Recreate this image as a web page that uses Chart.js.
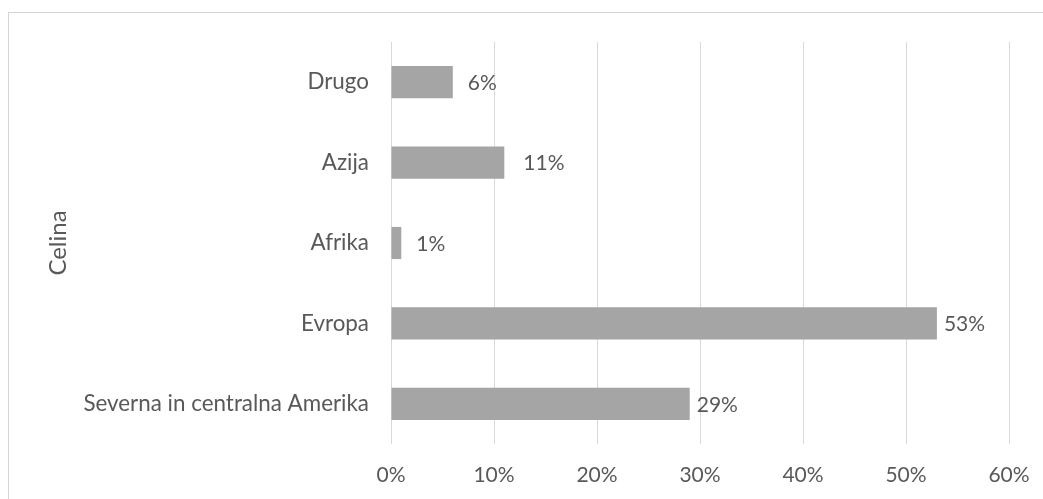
<!DOCTYPE html>
<html>
<head>
<meta charset="utf-8">
<script src="https://cdn.jsdelivr.net/npm/chart.js@4/dist/chart.umd.min.js"></script>
<style>
  html, body { margin: 0; padding: 0; background: #fff; overflow: hidden; }
  /* outer chart frame */
  .frame {
    position: absolute; left: 8px; top: 12px;
    width: 1100px; height: 600px;
    border: 1px solid #d4d4d4;
  }
  #chart { position: absolute; left: 0; top: 0; }
</style>
</head>
<body>
<div class="frame"></div>
<canvas id="chart" width="1043" height="499"></canvas>
<script>
/* Continents and their share */
const categories = ["Drugo", "Azija", "Afrika", "Evropa", "Severna in centralna Amerika"];
const shares = [6, 11, 1, 53, 29];
const axisTitle = "Celina";
const xTicks = [0, 10, 20, 30, 40, 50, 60];

const TEXT = "#595959";
const GRID = "#d9d9d9";
const FONT = "Lato, 'Noto Sans', sans-serif";

/* Value labels at the end of each bar */
const barLabels = {
  id: "barLabels",
  afterDatasetsDraw(chart, args, opts) {
    const ctx = chart.ctx;
    const meta = chart.getDatasetMeta(0);
    ctx.save();
    ctx.font = `${opts.size}px ${FONT}`;
    ctx.fillStyle = TEXT;
    ctx.textBaseline = "middle";
    ctx.textAlign = "left";
    meta.data.forEach((bar, i) => {
      const v = chart.data.datasets[0].data[i];
      const gap = opts.gaps[i] ?? 10;
      ctx.fillText(v + "%", bar.x + gap, bar.y + 1);
    });
    ctx.restore();
  },
};

new Chart(document.getElementById("chart"), {
  type: "bar",
  plugins: [barLabels],
  data: {
    labels: categories,
    datasets: [
      {
        data: shares,
        backgroundColor: "#a5a5a5",
        borderWidth: 0,
        categoryPercentage: 1,
        barPercentage: 0.4,
      },
    ],
  },
  options: {
    indexAxis: "y",
    responsive: false,
    animation: false,
    devicePixelRatio: 1,
    layout: { padding: { left: 40, right: 34, top: 42, bottom: 11 } },
    plugins: {
      legend: { display: false },
      tooltip: { enabled: false },
      barLabels: { size: 21, gaps: [15, 19, 15, 7, 7] },
    },
    scales: {
      x: {
        min: 0,
        max: 60,
        afterBuildTicks: (scale) => {
          scale.ticks = xTicks.map((v) => ({ value: v }));
        },
        afterFit: (scale) => {
          scale.height = 44;
          scale.paddingLeft = 0;
          scale.paddingRight = 0;
        },
        ticks: {
          color: TEXT,
          padding: 19,
          maxRotation: 0,
          minRotation: 0,
          font: { family: FONT, size: 21 },
          callback: (v) => v + "%",
        },
        grid: { color: GRID, lineWidth: 1, drawTicks: false },
        border: { display: false },
      },
      y: {
        afterFit: (scale) => {
          scale.width = 351;
          scale.paddingTop = 0;
          scale.paddingBottom = 0;
        },
        ticks: {
          color: TEXT,
          padding: 22,
          font: { family: FONT, size: 22.4 },
        },
        grid: { display: false, drawTicks: false },
        border: { display: false },
        title: {
          display: true,
          text: axisTitle,
          color: TEXT,
          font: { family: FONT, size: 24 },
          padding: 4,
        },
      },
    },
  },
});
</script>
</body>
</html>
